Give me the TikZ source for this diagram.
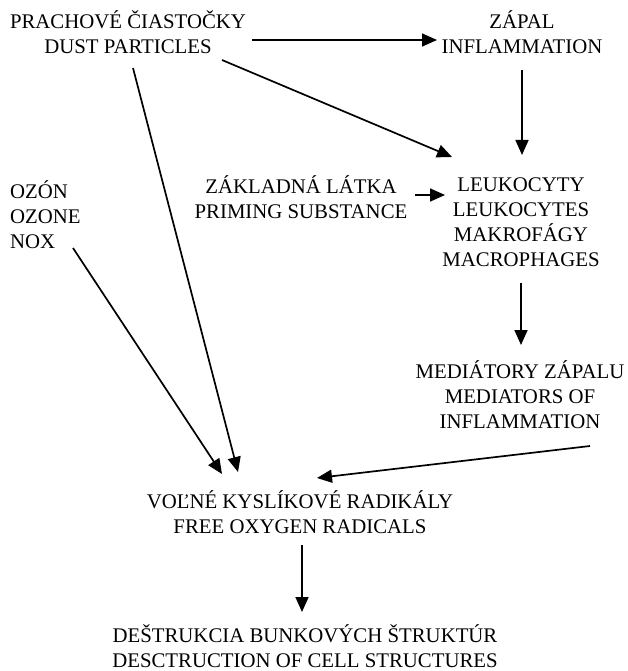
\documentclass[tikz,border=0pt]{standalone}
\usepackage{fontspec}
\setmainfont{Liberation Serif}
\usetikzlibrary{arrows.meta,calc}
\begin{document}
\begin{tikzpicture}[x=1pt,y=-1pt,
  lbl/.style={align=center,inner sep=0pt,font=\fontsize{20.8}{25}\selectfont},
  arr/.style={line width=1.7pt,-{Triangle[length=15pt,width=13pt]}}]
\useasboundingbox (0,0) rectangle (627,671);
\node[lbl] (dust) at (128,32) {PRACHOVÉ ČIASTOČKY\\DUST PARTICLES};
\node[lbl] (zapal) at (522,32) {ZÁPAL\\INFLAMMATION};
\node[lbl,align=left,anchor=west] (ozone) at (10,215) {OZÓN\\OZONE\\NOX};
\node[lbl] (prim) at (301,197) {ZÁKLADNÁ LÁTKA\\PRIMING SUBSTANCE};
\node[lbl] (leuk) at (521,222) {LEUKOCYTY\\LEUKOCYTES\\MAKROFÁGY\\MACROPHAGES};
\node[lbl] (med) at (520,395) {MEDIÁTORY ZÁPALU\\MEDIATORS OF\\INFLAMMATION};
\node[lbl] (rad) at (300,512) {VOĽNÉ KYSLÍKOVÉ RADIKÁLY\\FREE OXYGEN RADICALS};
\node[lbl] (dest) at (305,646) {DEŠTRUKCIA BUNKOVÝCH ŠTRUKTÚR\\DESCTRUCTION OF CELL STRUCTURES};
\draw[arr] ($(dust)+(124,8)$) -- ($(zapal)+(-85,8)$);
\draw[arr] ($(dust)+(94,28)$) -- ($(leuk)+(-69,-65)$);
\draw[arr] ($(zapal)+(0,38)$) -- ($(leuk)+(1,-67)$);
\draw[arr] ($(prim)+(114,-2)$) -- ($(leuk)+(-76,-27)$);
\draw[arr] ($(dust)+(5,36)$) -- ($(rad)+(-62,-40)$);
\draw[arr] ($(ozone.west)+(63,33)$) -- ($(rad)+(-78,-38)$);
\draw[arr] ($(leuk)+(0,61)$) -- ($(med)+(1,-50)$);
\draw[arr] ($(med)+(70,51)$) -- ($(rad)+(17,-34)$);
\draw[arr] ($(rad)+(2,33)$) -- ($(dest)+(-3,-34)$);
\end{tikzpicture}
\end{document}
